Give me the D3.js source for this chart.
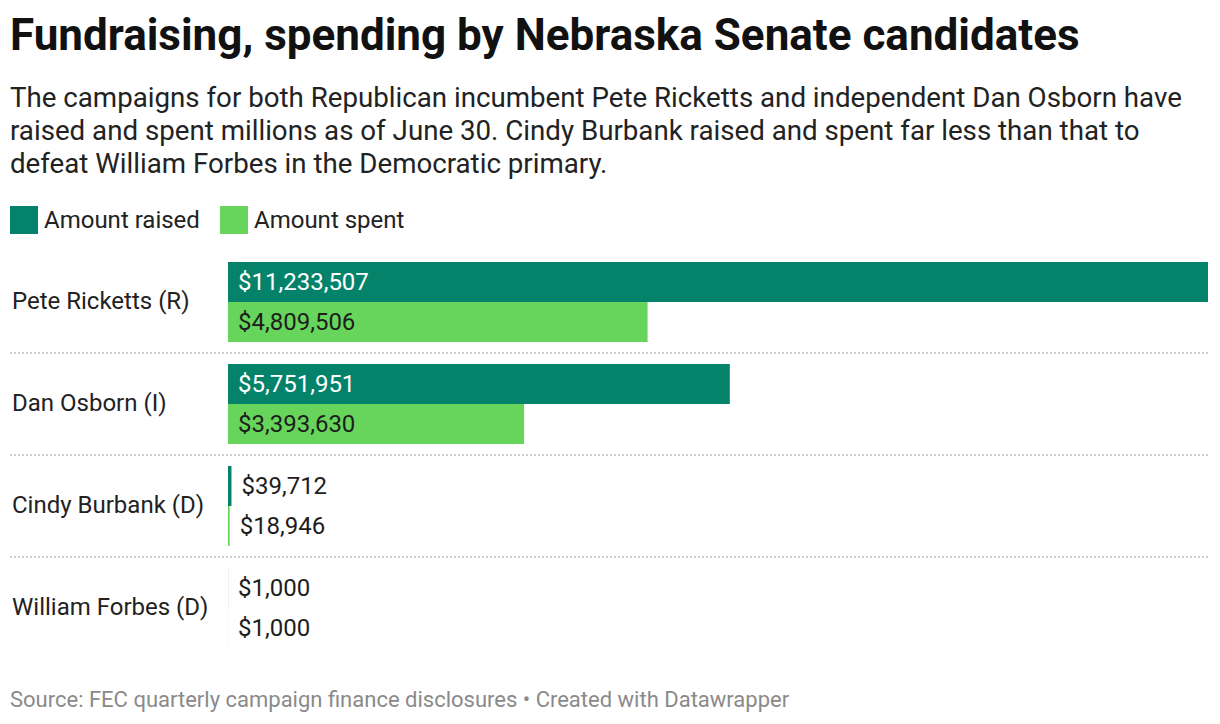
<!DOCTYPE html>
<html>
<head>
<meta charset="utf-8">
<script src="https://cdn.jsdelivr.net/npm/d3@7"></script>
<style>
  body { margin: 0; background: #fff; font-family: Roboto, sans-serif; }
  svg text { font-family: Roboto, sans-serif; }
</style>
</head>
<body>
<svg width="1220" height="724"></svg>
<script>
const candidates = ['Pete Ricketts (R)', 'Dan Osborn (I)', 'Cindy Burbank (D)', 'William Forbes (D)'];
const raised = [11233507, 5751951, 39712, 1000];
const spent = [4809506, 3393630, 18946, 1000];
const seriesNames = ['Amount raised', 'Amount spent'];
const colors = ['#04836a', '#67d55c'];

const title = 'Fundraising, spending by Nebraska Senate candidates';
const subtitle = [
  'The campaigns for both Republican incumbent Pete Ricketts and independent Dan Osborn have',
  'raised and spent millions as of June 30. Cindy Burbank raised and spent far less than that to',
  'defeat William Forbes in the Democratic primary.'
];
const source = 'Source: FEC quarterly campaign finance disclosures • Created with Datawrapper';

const svg = d3.select('svg');
const fmt = (v) => '$' + d3.format(',')(v);

// header
svg.append('text')
  .attr('x', 10).attr('y', 50)
  .style('font-size', '44px').style('font-weight', 700).style('fill', '#111')
  .text(title);

svg.append('g').selectAll('text')
  .data(subtitle)
  .enter()
  .append('text')
    .attr('x', 10)
    .attr('y', (d, i) => 107 + i * 33)
    .style('font-size', '27.7px').style('fill', '#222')
    .text((d) => d);

// legend
const legend = svg.append('g').attr('transform', 'translate(10, 206)');
const legendX = [0, 210];
seriesNames.forEach((name, i) => {
  legend.append('rect')
    .attr('x', legendX[i]).attr('y', 0)
    .attr('width', 28).attr('height', 28)
    .style('fill', colors[i]);
  legend.append('text')
    .attr('x', legendX[i] + 34).attr('y', 14)
    .attr('dy', '0.35em')
    .style('font-size', '24px').style('fill', '#222')
    .text(name);
});

// chart
const rows = candidates.map((c, i) => ({ name: c, values: [raised[i], spent[i]] }));

const x = d3.scaleLinear().domain([0, d3.max(raised)]).range([228, 1208]);
const y = d3.scaleBand().domain(candidates).range([262, 648]).paddingInner(22 / 102).paddingOuter(0);
const ySub = d3.scaleBand().domain([0, 1]).range([0, 80]);

const rowG = svg.selectAll('g.row')
  .data(rows)
  .enter()
  .append('g')
    .attr('class', 'row')
    .attr('transform', (d) => `translate(0, ${y(d.name)})`);

rowG.append('text')
  .attr('x', 12)
  .attr('y', 39)
  .attr('dy', '0.35em')
  .style('font-size', '24px').style('fill', '#222')
  .text((d) => d.name);

rowG.each(function (d) {
  const g = d3.select(this);
  d.values.forEach((v, j) => {
    const w = x(v) - x(0);
    g.append('rect')
      .attr('x', x(0))
      .attr('y', ySub(j))
      .attr('width', w)
      .attr('height', ySub.bandwidth())
      .style('fill', colors[j]);
    const label = g.append('text')
      .attr('y', ySub(j) + ySub.bandwidth() / 2)
      .attr('dy', '0.35em')
      .style('font-size', '24px')
      .text(fmt(v));
    const lw = label.node().getComputedTextLength();
    if (lw + 20 < w) {
      label.attr('x', x(0) + 10).style('fill', j === 0 ? '#fff' : '#1d1d1d');
    } else {
      label.attr('x', x(v) + 10).style('fill', '#1d1d1d');
    }
  });
});

// dotted separators between rows
svg.append('g').selectAll('line')
  .data(candidates.slice(1))
  .enter()
  .append('line')
    .attr('x1', 10).attr('x2', 1208)
    .attr('y1', (d) => y(d) - (y.step() - y.bandwidth()) / 2)
    .attr('y2', (d) => y(d) - (y.step() - y.bandwidth()) / 2)
    .style('stroke', '#cfcfcf')
    .style('stroke-width', 2)
    .style('stroke-dasharray', '2,2');

// footer
svg.append('text')
  .attr('x', 10).attr('y', 707)
  .style('font-size', '22px').style('fill', '#8a8a8a')
  .text(source);
</script>
</body>
</html>
